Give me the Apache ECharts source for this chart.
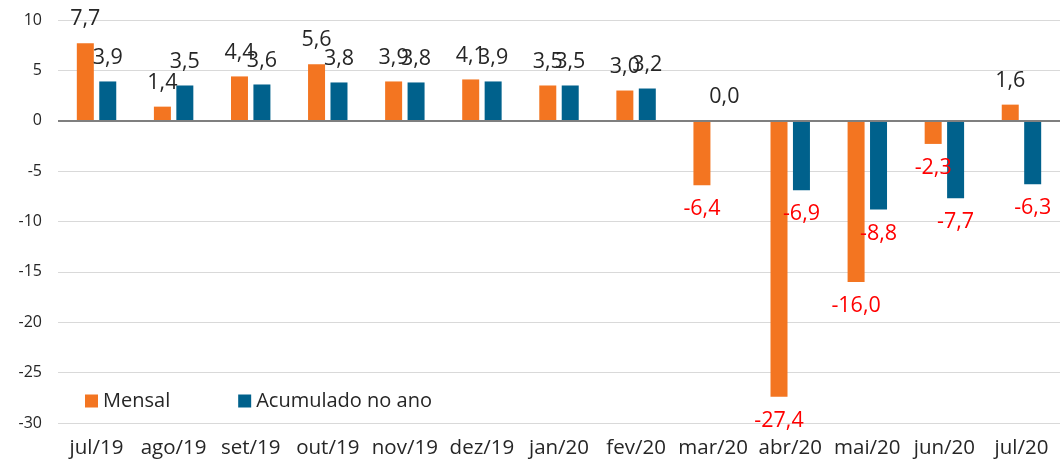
<!DOCTYPE html>
<html>
<head>
<meta charset="utf-8">
<script src="https://cdn.jsdelivr.net/npm/echarts@6/dist/echarts.min.js"></script>
<style>html,body{margin:0;padding:0;background:#fff;}#c{width:1060px;height:469px;}</style>
</head>
<body>
<div id="c"></div>
<script>
const categories = ['jul/19','ago/19','set/19','out/19','nov/19','dez/19','jan/20','fev/20','mar/20','abr/20','mai/20','jun/20','jul/20'];
const mensal = [7.7, 1.4, 4.4, 5.6, 3.9, 4.1, 3.5, 3.0, -6.4, -27.4, -16.0, -2.3, 1.6];
const acumulado = [3.9, 3.5, 3.6, 3.8, 3.8, 3.9, 3.5, 3.2, 0.0, -6.9, -8.8, -7.7, -6.3];
const seriesNames = ['Mensal', 'Acumulado no ano'];
const yTicks = { min: -30, max: 10, interval: 5 };

const FONT = '"Open Sans", "Noto Sans", sans-serif';
function toItems(arr) {
  return arr.map(v => ({
    value: v,
    label: {
      position: v < 0 ? 'bottom' : 'top',
      color: v < 0 ? '#ff0000' : '#262626'
    }
  }));
}
const fmt = p => p.value.toFixed(1).replace('.', ',');
const chart = echarts.init(document.getElementById('c'));
chart.setOption({
  animation: false,
  backgroundColor: '#ffffff',
  grid: { left: 58, right: -5, top: 20, bottom: 46, containLabel: false },
  legend: {
    left: 80, top: 386,
    itemWidth: 13, itemHeight: 13, itemGap: 68,
    icon: 'rect',
    textStyle: { fontFamily: FONT, fontSize: 20, color: '#262626' },
    data: seriesNames
  },
  xAxis: {
    type: 'category',
    data: categories,
    axisLine: { show: false, onZero: false },
    axisTick: { show: false },
    axisLabel: { fontFamily: FONT, fontSize: 20.5, color: '#262626', margin: 15, interval: 0 }
  },
  yAxis: {
    type: 'value',
    min: yTicks.min, max: yTicks.max, interval: yTicks.interval,
    axisLine: { show: false },
    axisTick: { show: false },
    splitLine: { lineStyle: { color: '#d9d9d9', width: 1 } },
    axisLabel: { fontFamily: FONT, fontSize: 16, color: '#262626', margin: 16 }
  },
  series: [
    {
      name: seriesNames[0], type: 'bar', data: toItems(mensal),
      barWidth: 17, barGap: '32%',
      itemStyle: { color: '#f37521' },
      label: { show: true, formatter: fmt, fontFamily: FONT, fontSize: 21.5, distance: 13 },
      markLine: {
        silent: true, symbol: 'none', label: { show: false },
        lineStyle: { color: '#7f7f7f', width: 2, type: 'solid' },
        data: [{ yAxis: 0 }]
      },
      z: 2
    },
    {
      name: seriesNames[1], type: 'bar', data: toItems(acumulado),
      barWidth: 17, barGap: '32%',
      itemStyle: { color: '#00618c' },
      label: { show: true, formatter: fmt, fontFamily: FONT, fontSize: 21.5, distance: 13 },
      z: 2
    }
  ]
});
</script>
</body>
</html>
